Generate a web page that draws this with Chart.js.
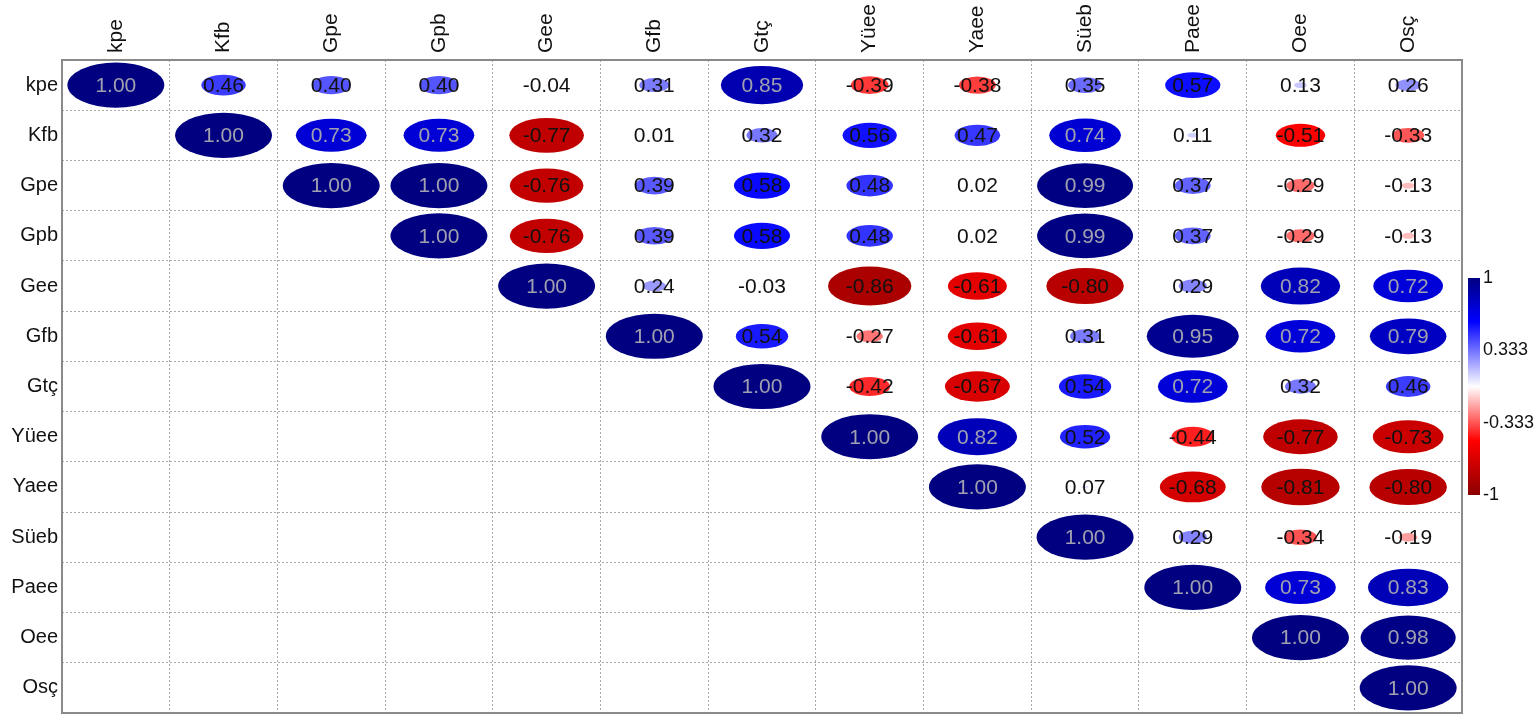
<!DOCTYPE html>
<html>
<head>
<meta charset="utf-8">
<script src="https://cdn.jsdelivr.net/npm/chart.js@4/dist/chart.umd.min.js"></script>
<style>
  html, body { margin: 0; padding: 0; background: #ffffff; }
  #c { display: block; }
</style>
</head>
<body>
<canvas id="c" width="1535" height="715"></canvas>
<script>
// Variable names (rows top to bottom, columns left to right)
const variables = ['kpe', 'Kfb', 'Gpe', 'Gpb', 'Gee', 'Gfb', 'Gtç', 'Yüee', 'Yaee', 'Süeb', 'Paee', 'Oee', 'Osç'];

// Upper triangle of the correlation matrix: one array per row, starting at the diagonal
const rowKpe  = [1.00, 0.46, 0.40, 0.40, -0.04, 0.31, 0.85, -0.39, -0.38, 0.35, 0.57, 0.13, 0.26];
const rowKfb  = [1.00, 0.73, 0.73, -0.77, 0.01, 0.32, 0.56, 0.47, 0.74, 0.11, -0.51, -0.33];
const rowGpe  = [1.00, 1.00, -0.76, 0.39, 0.58, 0.48, 0.02, 0.99, 0.37, -0.29, -0.13];
const rowGpb  = [1.00, -0.76, 0.39, 0.58, 0.48, 0.02, 0.99, 0.37, -0.29, -0.13];
const rowGee  = [1.00, 0.24, -0.03, -0.86, -0.61, -0.80, 0.29, 0.82, 0.72];
const rowGfb  = [1.00, 0.54, -0.27, -0.61, 0.31, 0.95, 0.72, 0.79];
const rowGtc  = [1.00, -0.42, -0.67, 0.54, 0.72, 0.32, 0.46];
const rowYuee = [1.00, 0.82, 0.52, -0.44, -0.77, -0.73];
const rowYaee = [1.00, 0.07, -0.68, -0.81, -0.80];
const rowSueb = [1.00, 0.29, -0.34, -0.19];
const rowPaee = [1.00, 0.73, 0.83];
const rowOee  = [1.00, 0.98];
const rowOsc  = [1.00];

// Colour bar tick labels
const legendTicks = ['1', '0.333', '-0.333', '-1'];
const legendValues = [1, 0.333, -0.333, -1];

const rows = [rowKpe, rowKfb, rowGpe, rowGpb, rowGee, rowGfb, rowGtc, rowYuee, rowYaee, rowSueb, rowPaee, rowOee, rowOsc];

// Flatten into points for the chart: x = column name, y = row name, v = coefficient
const points = [];
rows.forEach((vals, i) => {
  vals.forEach((v, k) => {
    points.push({ x: variables[i + k], y: variables[i], v: v });
  });
});

// Diverging palette: darkred - red - white - blue - darkblue
const stops = [
  [-1.0, [139, 0, 0]],
  [-0.5, [255, 0, 0]],
  [0.0, [255, 255, 255]],
  [0.6, [0, 0, 255]],
  [1.0, [0, 0, 128]]
];
function colorFor(v) {
  for (let i = 0; i < stops.length - 1; i++) {
    const [a, ca] = stops[i], [b, cb] = stops[i + 1];
    if (v >= a && v <= b) {
      const t = (v - a) / (b - a);
      const c = ca.map((q, j) => Math.round(q + (cb[j] - q) * t));
      return `rgb(${c[0]},${c[1]},${c[2]})`;
    }
  }
  return v < 0 ? 'rgb(139,0,0)' : 'rgb(0,0,128)';
}

const FONT = '"Liberation Sans", Arial, Helvetica, sans-serif';

// Ellipses and coefficient text drawn at the positions the scatter controller computed
const corrPlugin = {
  id: 'corrEllipses',
  afterDatasetsDraw(chart) {
    const { ctx, scales: { x, y } } = chart;
    const cw = Math.abs(x.getPixelForValue(1) - x.getPixelForValue(0));
    const ch = Math.abs(y.getPixelForValue(1) - y.getPixelForValue(0));
    const meta = chart.getDatasetMeta(0);
    ctx.save();
    meta.data.forEach((el, i) => {
      const v = chart.data.datasets[0].data[i].v;
      const a = Math.abs(v);
      ctx.fillStyle = colorFor(v);
      ctx.beginPath();
      ctx.ellipse(el.x, el.y, a * 0.45 * cw, a * 0.45 * ch, 0, 0, Math.PI * 2);
      ctx.fill();
      ctx.fillStyle = v >= 0.7 ? '#a0a0b0' : '#111111';
      ctx.font = '21px ' + FONT;
      ctx.textAlign = 'center';
      ctx.textBaseline = 'middle';
      ctx.fillText(v.toFixed(2), el.x, el.y + 1);
    });
    ctx.restore();
  },
  afterDraw(chart) {
    const { ctx, chartArea: ca, scales: { x } } = chart;
    ctx.save();
    // outer frame
    ctx.strokeStyle = '#8a8a8a';
    ctx.lineWidth = 2;
    ctx.setLineDash([]);
    ctx.strokeRect(ca.left, ca.top, ca.right - ca.left, ca.bottom - ca.top);

    // column names, vertical, reading upwards, centred on each column
    ctx.fillStyle = '#111111';
    ctx.font = '21px ' + FONT;
    ctx.textAlign = 'left';
    ctx.textBaseline = 'middle';
    variables.forEach((name, i) => {
      ctx.save();
      ctx.translate(x.getPixelForValue(i), ca.top - 7);
      ctx.rotate(-Math.PI / 2);
      ctx.fillText(name, 0, 0);
      ctx.restore();
    });

    // colour bar
    const bx = ca.right + 6, bw = 12, top = 278, bottom = 495;
    const g = ctx.createLinearGradient(0, top, 0, bottom);
    stops.forEach(([v, c]) => {
      g.addColorStop((1 - v) / 2, `rgb(${c[0]},${c[1]},${c[2]})`);
    });
    ctx.fillStyle = g;
    ctx.fillRect(bx, top, bw, bottom - top);
    ctx.fillStyle = '#111111';
    ctx.font = '18px ' + FONT;
    ctx.textAlign = 'left';
    ctx.textBaseline = 'middle';
    legendTicks.forEach((t, i) => {
      const yy = top + (1 - legendValues[i]) / 2 * (bottom - top);
      ctx.fillText(t, bx + bw + 3, yy);
    });
    ctx.restore();
  }
};

new Chart(document.getElementById('c'), {
  type: 'scatter',
  data: {
    datasets: [{
      data: points,
      pointRadius: 0,
      pointHoverRadius: 0,
      showLine: false
    }]
  },
  options: {
    responsive: false,
    animation: false,
    events: [],
    layout: { padding: { left: 0, top: 0, right: 73, bottom: 2 } },
    plugins: { legend: { display: false }, tooltip: { enabled: false } },
    scales: {
      x: {
        type: 'category',
        labels: variables,
        position: 'top',
        offset: true,
        grid: { offset: true, color: '#a8a8a8', lineWidth: 1, drawTicks: false },
        border: { display: false, dash: [2, 2] },
        ticks: { display: false },
        afterFit(scale) {
          scale.height = 60;
          scale.paddingLeft = 0;
          scale.paddingRight = 0;
        }
      },
      y: {
        type: 'category',
        labels: variables,
        offset: true,
        grid: { offset: true, color: '#a8a8a8', lineWidth: 1, drawTicks: false },
        border: { display: false, dash: [2, 2] },
        ticks: {
          autoSkip: false, padding: 4,
          color: '#111111', font: { family: FONT, size: 20 }
        },
        afterFit(scale) {
          scale.width = 62;
          scale.paddingTop = 0;
          scale.paddingBottom = 0;
        }
      }
    }
  },
  plugins: [corrPlugin]
});
</script>
</body>
</html>
